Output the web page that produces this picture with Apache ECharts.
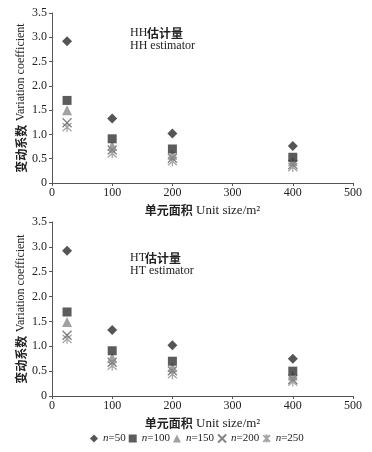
<!DOCTYPE html>
<html><head><meta charset="utf-8">
<script src="https://cdn.jsdelivr.net/npm/echarts@6/dist/echarts.min.js"></script>
<style>html,body{margin:0;padding:0;background:#fff}#c{width:372px;height:452px}</style>
</head><body><div id="c"></div>
<script>
const unitSizes = [25, 100, 200, 400];
const seriesNames = ['n=50', 'n=100', 'n=150', 'n=200', 'n=250'];
// HH estimator
const hh_n50  = [2.92, 1.33, 1.02, 0.76];
const hh_n100 = [1.70, 0.91, 0.70, 0.53];
const hh_n150 = [1.50, 0.76, 0.58, 0.45];
const hh_n200 = [1.24, 0.68, 0.51, 0.38];
const hh_n250 = [1.15, 0.61, 0.45, 0.33];
// HT estimator
const ht_n50  = [2.92, 1.33, 1.02, 0.75];
const ht_n100 = [1.69, 0.91, 0.70, 0.50];
const ht_n150 = [1.49, 0.77, 0.58, 0.41];
const ht_n200 = [1.22, 0.68, 0.51, 0.33];
const ht_n250 = [1.15, 0.61, 0.44, 0.29];
const yTicks = [0, 0.5, 1.0, 1.5, 2.0, 2.5, 3.0, 3.5];
const xTicks = [0, 100, 200, 300, 400, 500];

const serif = '"Liberation Serif", "Times New Roman", serif';
const cjk = '"Noto Sans CJK SC", sans-serif';

const styles = [
  {symbol: 'diamond', symbolSize: 10, itemStyle: {color: '#2b2b2b'}},
  {symbol: 'rect', symbolSize: 9, itemStyle: {color: '#333333'}},
  {symbol: 'triangle', symbolSize: 10, itemStyle: {color: '#8a8a8a'}},
  {symbol: 'path://M0,0 L10,10 M10,0 L0,10', symbolSize: 9, itemStyle: {color: 'rgba(0,0,0,0)', borderColor: '#666', borderWidth: 1.4}},
  {symbol: 'path://M0,0 L10,10 M10,0 L0,10 M5,-1 L5,11', symbolSize: [9, 10], itemStyle: {color: 'rgba(0,0,0,0)', borderColor: '#8c8c8c', borderWidth: 1.3}}
];

const hhData = [hh_n50, hh_n100, hh_n150, hh_n200, hh_n250];
const htData = [ht_n50, ht_n100, ht_n150, ht_n200, ht_n250];

function pairs(arr) { return unitSizes.map((x, i) => [x, arr[i]]); }

const xAxisBase = (gi) => ({
  gridIndex: gi, type: 'value', min: 0, max: 500, interval: 100,
  name: '{c|单元面积} {e|Unit size/m²}', nameLocation: 'middle', nameGap: 21, nameMoveOverlap: false,
  nameTextStyle: {rich: {c: {fontFamily: cjk, fontWeight: 'bold', fontSize: 12, color: '#222'}, e: {fontFamily: serif, fontSize: 13, color: '#222'}}},
  axisLine: {show: true, lineStyle: {color: '#555', width: 1}},
  axisTick: {show: true, inside: false, length: 3, lineStyle: {color: '#555'}},
  axisLabel: {fontFamily: serif, fontSize: 12, color: '#222', margin: 4},
  splitLine: {show: false}
});
const yAxisBase = (gi) => ({
  gridIndex: gi, type: 'value', min: 0, max: 3.5, interval: 0.5,
  name: '{c|变动系数} {e|Variation coefficient}', nameLocation: 'middle', nameGap: 25, nameRotate: 90, nameMoveOverlap: false,
  nameTextStyle: {rich: {c: {fontFamily: cjk, fontWeight: 'bold', fontSize: 12, color: '#222'}, e: {fontFamily: serif, fontSize: 12, color: '#222'}}},
  axisLine: {show: true, lineStyle: {color: '#555', width: 1}},
  axisTick: {show: true, inside: false, length: 3, lineStyle: {color: '#555'}},
  axisLabel: {fontFamily: serif, fontSize: 12, color: '#222', margin: 5, formatter: v => v === 0 ? '0' : v.toFixed(1)},
  splitLine: {show: false}
});

const series = [];
[hhData, htData].forEach((data, gi) => {
  data.forEach((arr, si) => {
    series.push(Object.assign({
      type: 'scatter', name: seriesNames[si], xAxisIndex: gi, yAxisIndex: gi,
      data: pairs(arr), z: 10 - si
    }, styles[si]));
  });
});

const chart = echarts.init(document.getElementById('c'));
chart.setOption({
  animation: false,
  grid: [
    {left: 52, right: 19, top: 13, height: 170},
    {left: 52, right: 19, top: 222, height: 174}
  ],
  xAxis: [xAxisBase(0), xAxisBase(1)],
  yAxis: [yAxisBase(0), yAxisBase(1)],
  legend: {
    data: seriesNames, top: 428, left: 85, itemWidth: 8, itemHeight: 8, itemGap: 3,
    formatter: name => '{i|n}{r|' + name.slice(1) + '}',
    textStyle: {rich: {i: {fontFamily: serif, fontStyle: 'italic', fontSize: 11, color: '#222'}, r: {fontFamily: serif, fontSize: 11, color: '#222'}}}
  },
  graphic: [
    {type: 'text', left: 130, top: 27, style: {text: 'HH', font: '12px ' + serif, fill: '#222'}},
    {type: 'text', left: 147, top: 27, style: {text: '估计量', font: 'bold 12px ' + cjk, fill: '#222'}},
    {type: 'text', left: 130, top: 40, style: {text: 'HH estimator', font: '12px ' + serif, fill: '#222'}},
    {type: 'text', left: 130, top: 252, style: {text: 'HT', font: '12px ' + serif, fill: '#222'}},
    {type: 'text', left: 145, top: 252, style: {text: '估计量', font: 'bold 12px ' + cjk, fill: '#222'}},
    {type: 'text', left: 130, top: 265, style: {text: 'HT estimator', font: '12px ' + serif, fill: '#222'}}
  ],
  series: series
});
</script></body></html>
